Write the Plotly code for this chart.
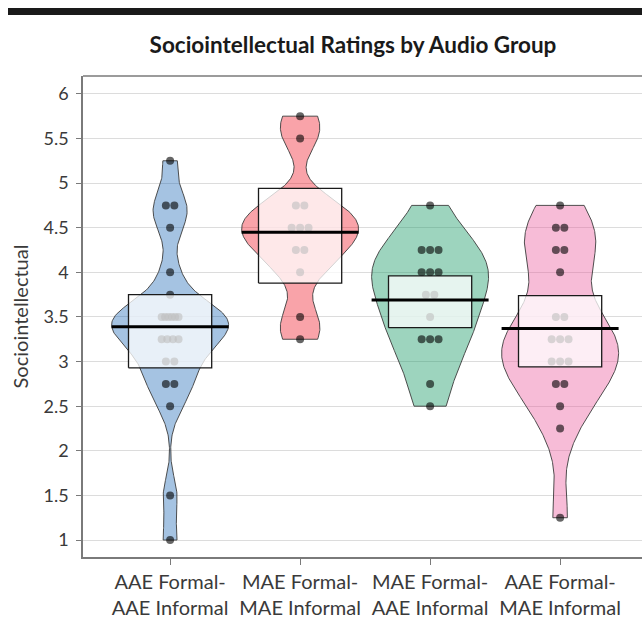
import numpy as np
import plotly.graph_objects as go

# ---------------- data (overlapping points estimated) ----------------
categories = [
    "AAE Formal-<br>AAE Informal",
    "MAE Formal-<br>MAE Informal",
    "MAE Formal-<br>AAE Informal",
    "AAE Formal-<br>MAE Informal",
]

aae_formal_aae_informal = [5.25, 4.75, 4.75, 4.5, 4.0, 3.75,
                           3.5, 3.5, 3.5, 3.5, 3.5, 3.5,
                           3.25, 3.25, 3.25, 3.25, 3.0, 3.0,
                           2.75, 2.75, 2.5, 1.5, 1.0]
mae_formal_mae_informal = [5.75, 5.5, 4.75, 4.75, 4.5, 4.5, 4.5, 4.25, 4.25,
                           4.0, 3.5, 3.25]
mae_formal_aae_informal = [4.75, 4.25, 4.25, 4.25, 4.0, 4.0, 4.0, 3.75, 3.75,
                           3.5, 3.25, 3.25, 3.25, 2.75, 2.5]
aae_formal_mae_informal = [4.75, 4.5, 4.5, 4.25, 4.25, 4.0, 3.5, 3.5,
                           3.25, 3.25, 3.25, 3.0, 3.0, 3.0, 2.75, 2.75,
                           2.5, 2.25, 1.25]

group_means = [3.39, 4.45, 3.69, 3.37]
interval_low = [2.93, 3.88, 3.38, 2.94]
interval_high = [3.75, 4.94, 3.96, 3.74]

y_tick_values = [1, 1.5, 2, 2.5, 3, 3.5, 4, 4.5, 5, 5.5, 6]
y_tick_labels = ["1", "1.5", "2", "2.5", "3", "3.5", "4", "4.5", "5", "5.5", "6"]

# ---------------- styles ----------------
bean_colors = [
    "rgba(12,91,176,0.37)",
    "rgba(238,0,17,0.36)",
    "rgba(21,152,100,0.42)",
    "rgba(236,87,154,0.40)",
]
bean_bandwidth = [0.2, 0.2, 0.35, 0.35]
FONT = "Lato, 'Open Sans', sans-serif"
AXIS_GRAY = "#7a7a7a"
TEXT = "#3a3a3a"
BEAN_HALF = 0.45
BOX_HALF = 0.32
LINE_HALF = 0.45

FIG_W, FIG_H = 642, 626
M_L, M_T, M_B, M_R = 83, 76, 69, 0
PLOT_W = FIG_W - M_L - M_R
PLOT_H = FIG_H - M_T - M_B

series = [aae_formal_aae_informal, mae_formal_mae_informal,
          mae_formal_aae_informal, aae_formal_mae_informal]

fig = go.Figure()

# beans: Gaussian KDE cut at the data range, each scaled to the same max width
for i, vals in enumerate(series):
    v = np.asarray(vals, dtype=float)
    grid = np.linspace(v.min(), v.max(), 300)
    dens = np.exp(-0.5 * ((grid[:, None] - v[None, :]) / bean_bandwidth[i]) ** 2).sum(axis=1)
    half = BEAN_HALF * dens / dens.max()
    xs = np.concatenate([i - half, (i + half)[::-1], [i - half[0]]])
    ys = np.concatenate([grid, grid[::-1], [grid[0]]])
    fig.add_trace(go.Scatter(
        x=xs, y=ys, mode="lines", fill="toself",
        fillcolor=bean_colors[i],
        line=dict(color="rgba(60,60,60,0.9)", width=1),
        hoverinfo="skip", showlegend=False,
    ))

# raw points: equal values spread side by side around the group centre
for i, vals in enumerate(series):
    px, py = [], []
    for val in sorted(set(vals)):
        m = vals.count(val)
        span = min(0.065 * (m - 1), 0.13)
        offs = np.linspace(-span / 2, span / 2, m) if m > 1 else [0.0]
        for o in offs:
            px.append(i + o)
            py.append(val)
    fig.add_trace(go.Scatter(
        x=px, y=py, mode="markers",
        marker=dict(color="rgba(0,0,0,0.6)", size=8, line=dict(width=0)),
        hoverinfo="skip", showlegend=False,
    ))

# inference bands and mean lines
for i in range(len(series)):
    fig.add_trace(go.Scatter(
        x=[i - BOX_HALF, i + BOX_HALF, i + BOX_HALF, i - BOX_HALF, i - BOX_HALF],
        y=[interval_low[i], interval_low[i], interval_high[i], interval_high[i], interval_low[i]],
        mode="lines", fill="toself",
        fillcolor="rgba(255,255,255,0.75)",
        line=dict(color="#1a1a1a", width=1.3),
        hoverinfo="skip", showlegend=False,
    ))
    fig.add_trace(go.Scatter(
        x=[i - LINE_HALF, i + LINE_HALF],
        y=[group_means[i], group_means[i]],
        mode="lines",
        line=dict(color="black", width=3),
        hoverinfo="skip", showlegend=False,
    ))

fig.update_layout(
    width=FIG_W, height=FIG_H,
    margin=dict(l=M_L, r=M_R, t=M_T, b=M_B),
    paper_bgcolor="white",
    plot_bgcolor="white",
    showlegend=False,
    font=dict(family=FONT, color=TEXT),
    title=dict(
        text="<b>Sociointellectual Ratings by Audio Group</b>",
        xref="container", x=353 / FIG_W, xanchor="center",
        yref="container", y=1 - 45 / FIG_H, yanchor="middle",
        font=dict(family=FONT, size=22.5, color="#1a1a1a"),
    ),
    xaxis=dict(
        range=[-0.67, 3.63],
        tickvals=list(range(len(categories))),
        ticktext=categories,
        showgrid=False,
        zeroline=False,
        showline=True,
        mirror=False,
        linecolor=AXIS_GRAY,
        linewidth=1.5,
        ticks="outside",
        ticklen=6,
        tickcolor=AXIS_GRAY,
        tickfont=dict(family=FONT, size=20, color=TEXT),
        automargin=False,
    ),
    yaxis=dict(
        range=[0.81, 6.2],
        tickvals=y_tick_values,
        ticktext=y_tick_labels,
        showgrid=True,
        gridcolor="#dcdcdc",
        gridwidth=1,
        zeroline=False,
        showline=True,
        mirror=False,
        linecolor=AXIS_GRAY,
        linewidth=1.5,
        ticks="outside",
        ticklen=5,
        tickcolor=AXIS_GRAY,
        ticklabelstandoff=4,
        tickfont=dict(family=FONT, size=18, color=TEXT),
        title=dict(text="Sociointellectual", font=dict(family=FONT, size=20, color=TEXT),
                   standoff=10),
        automargin=False,
    ),
    shapes=[
        # top rule of the page
        dict(type="rect", xref="paper", yref="paper",
             x0=(8 - M_L) / PLOT_W, x1=1.0,
             y0=(FIG_H - M_B - 15) / PLOT_H, y1=(FIG_H - M_B - 8) / PLOT_H,
             fillcolor="#1a1a1a", line=dict(width=0), layer="above"),
        # top border of the plotting frame
        dict(type="line", xref="paper", yref="paper",
             x0=0, x1=1, y0=1, y1=1,
             line=dict(color=AXIS_GRAY, width=1.5), layer="above"),
    ],
)

# remove the default page margin so the 642x626 figure fills the window exactly
fig.write_html("out.html",
               config={"displayModeBar": False},
               post_script="document.body.style.margin='0';document.body.style.overflow='hidden';")
